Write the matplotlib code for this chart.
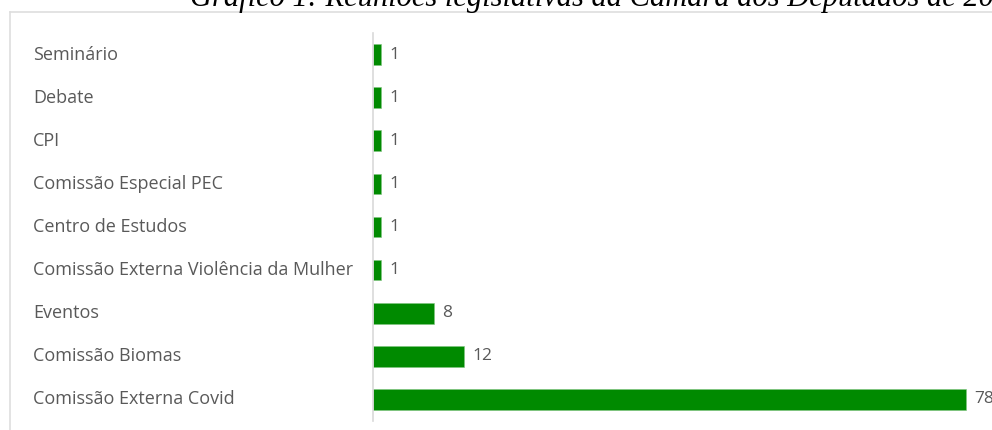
import matplotlib

matplotlib.use("Agg")

import matplotlib.pyplot as plt
from matplotlib.lines import Line2D
from matplotlib.transforms import blended_transform_factory

# data, bottom to top as drawn
categories = [
    "Comissão Externa Covid",
    "Comissão Biomas",
    "Eventos",
    "Comissão Externa Violência da Mulher",
    "Centro de Estudos",
    "Comissão Especial PEC",
    "CPI",
    "Debate",
    "Seminário",
]
values = [78, 12, 8, 1, 1, 1, 1, 1, 1]
title = "Gráfico 1: Reuniões legislativas da Câmara dos Deputados de 2020"

W, H = 992, 430
bar_color = "#008a00"
text_color = "#595959"
frame_color = "#dedede"

fig = plt.figure(figsize=(W / 100, H / 100), dpi=100)
fig.patch.set_facecolor("white")

# axes placed in pixel terms: zero line at x=373, rows from y=33 to y=421
left, right = 373, W
top, bottom = 33, 421
ax = fig.add_axes([left / W, 1 - bottom / H, (right - left) / W, (bottom - top) / H])

y = list(range(len(categories)))
ax.barh(y, values, height=0.48, color=bar_color, edgecolor="#7fc47f", linewidth=0.4)
ax.set_ylim(-0.5, len(categories) - 0.5)
ax.set_xlim(0, (right - left) / 7.6)

for spine in ("top", "right", "bottom"):
    ax.spines[spine].set_visible(False)
ax.spines["left"].set_color("#d9d9d9")
ax.spines["left"].set_linewidth(1.2)
ax.set_xticks([])
ax.set_yticks([])

label_tr = blended_transform_factory(fig.transFigure, ax.transData)
for yi, cat, val in zip(y, categories, values):
    ax.text(33 / W, yi, cat, transform=label_tr, ha="left", va="center",
            fontsize=13, color=text_color, family="Open Sans")
    ax.annotate(str(val), (val, yi), xytext=(6, 0), textcoords="offset points",
                ha="left", va="center", fontsize=12.5, color=text_color,
                family="Open Sans", annotation_clip=False)

# outer frame of the embedded chart
fig.add_artist(Line2D([10 / W, 1], [1 - 12 / H, 1 - 12 / H], color=frame_color, linewidth=1.2))
fig.add_artist(Line2D([10 / W, 10 / W], [0, 1 - 12 / H], color=frame_color, linewidth=1.2))

fig.text(190 / W, 1 - 6 / H, title, ha="left", va="baseline", fontsize=22,
         family="Liberation Serif", style="italic", color="black")

fig.savefig("out.png", dpi=100)
